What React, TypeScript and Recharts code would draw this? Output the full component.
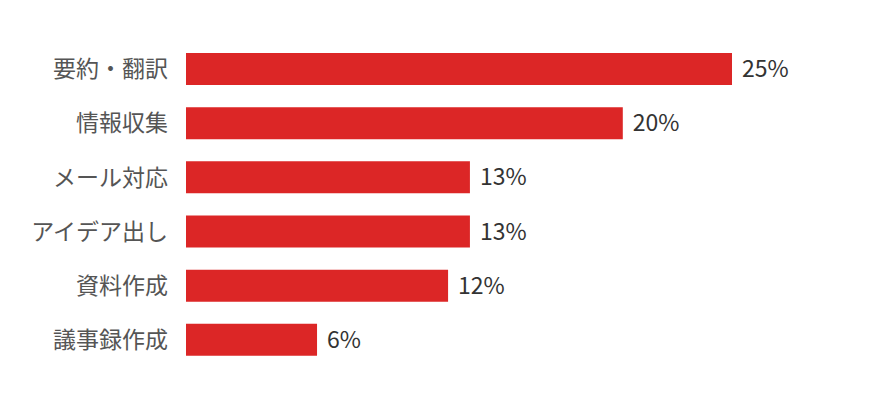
import React from "react";
import { Bar, BarChart, LabelList, XAxis, YAxis } from "recharts";

const categories = ["要約・翻訳", "情報収集", "メール対応", "アイデア出し", "資料作成", "議事録作成"];
const shares = [25, 20, 13, 13, 12, 6];

const data = categories.map((name, i) => ({ name, value: shares[i] }));

const font = '"Noto Sans CJK JP", "Noto Sans", sans-serif';

const App: React.FC = () => {
  return (
    <div style={{ fontFamily: font }}>
      <BarChart
        width={876}
        height={404}
        data={data}
        layout="vertical"
        margin={{ top: 34, right: 152, left: 0, bottom: 45 }}
      >
        <XAxis type="number" domain={[0, 25]} hide />
        <YAxis
          type="category"
          dataKey="name"
          width={178}
          axisLine={false}
          tickLine={false}
          tickSize={0}
          tickMargin={18}
          tick={{ fill: "#555555", fontSize: 23, fontFamily: font }}
        />
        <Bar dataKey="value" fill="#dc2626" barSize={32} isAnimationActive={false}>
          <LabelList
            dataKey="value"
            position="right"
            offset={10}
            formatter={(v: any) => `${v}%`}
            style={{ fill: "#333333", fontSize: 23, fontFamily: font }}
          />
        </Bar>
      </BarChart>
    </div>
  );
};

export default App;
